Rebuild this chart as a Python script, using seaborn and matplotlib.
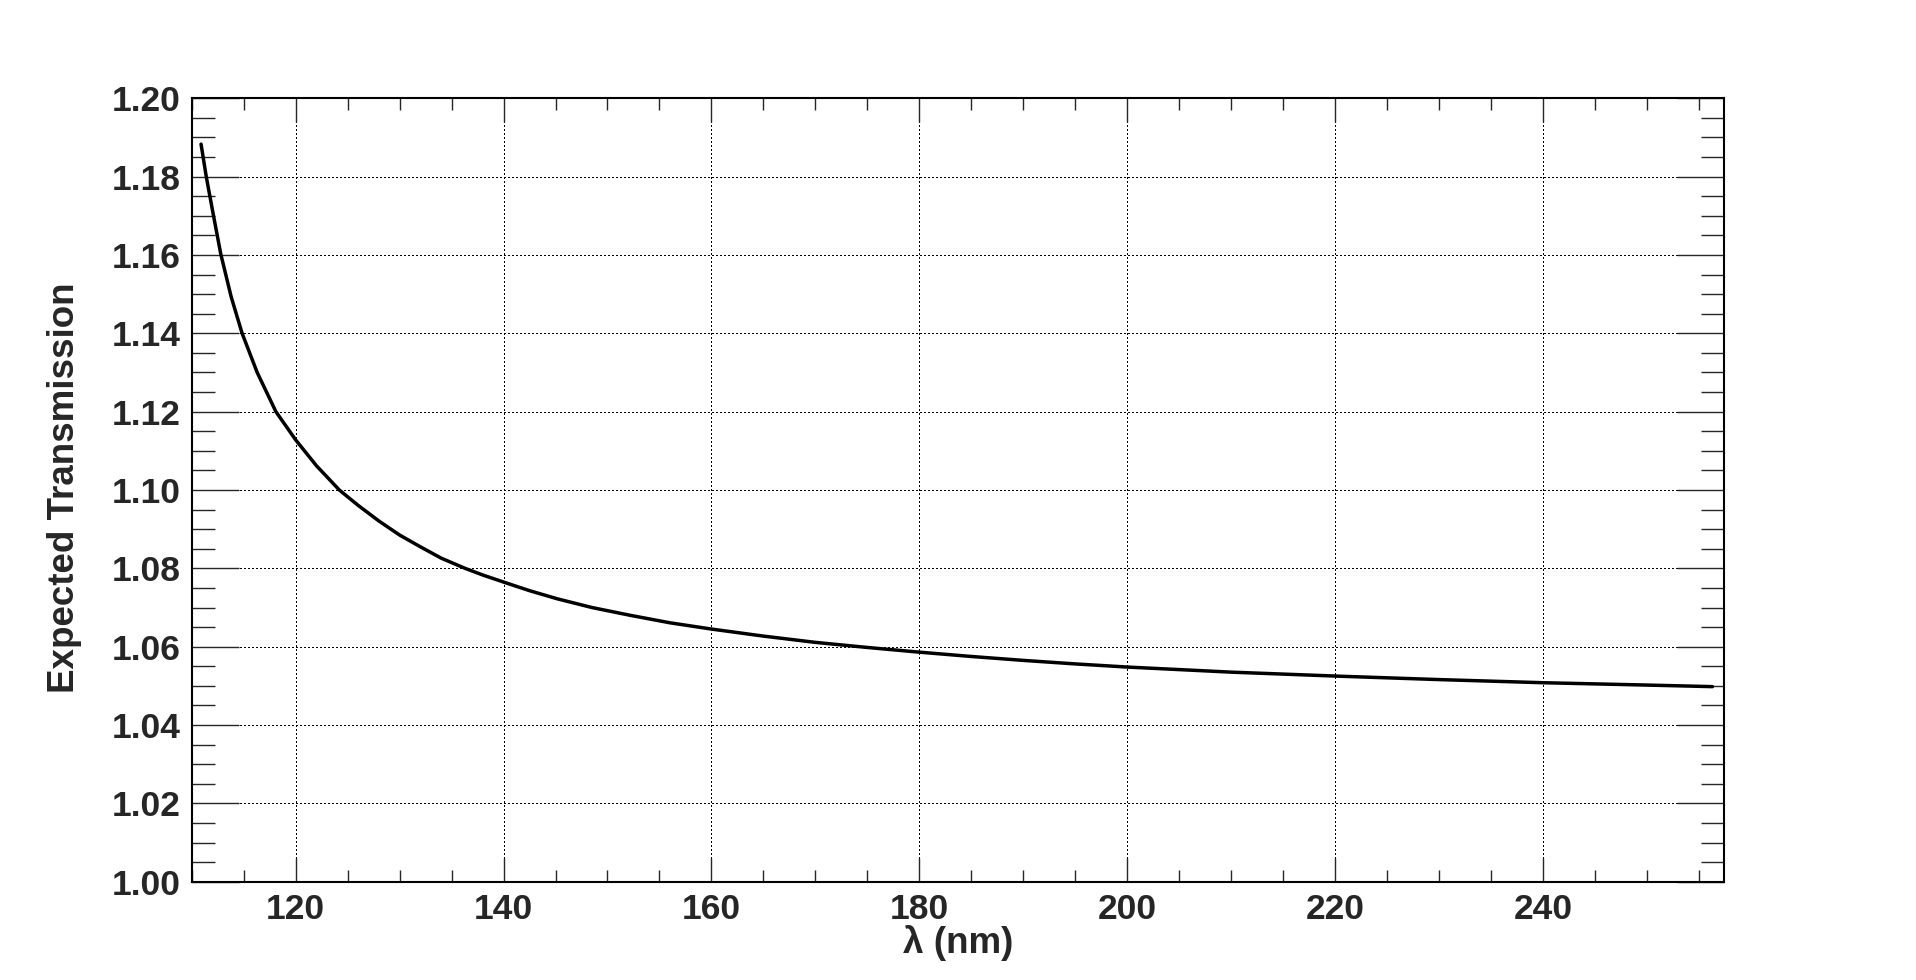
import matplotlib
matplotlib.use("Agg")
import matplotlib.pyplot as plt
from matplotlib.ticker import MultipleLocator, FormatStrFormatter
import seaborn as sns
import pandas as pd

# Valores (comprimento de onda em nm, transmissao esperada)
wavelength_nm = [110.9, 111.4, 112.1, 112.8, 113.8, 114.85, 116.3, 118.1, 120.0,
                 122.0, 124.2, 126.0, 128.0, 130.0, 132.0, 134.0, 136.3, 138.0,
                 140.0, 142.5, 145.2, 148.5, 152.2, 156.0, 160.0, 165.0, 170.0,
                 175.0, 180.0, 185.0, 190.0, 195.0, 200.0, 210.0, 220.0, 230.0,
                 240.0, 250.0, 256.3]
transmission = [1.1883, 1.1800, 1.1700, 1.1602, 1.1493, 1.1400, 1.1300, 1.1200, 1.1128,
                1.1062, 1.1000, 1.0961, 1.0921, 1.0885, 1.0855, 1.0826, 1.0800, 1.0783,
                1.0765, 1.0743, 1.0722, 1.0700, 1.0680, 1.0661, 1.0645, 1.0627, 1.0611,
                1.0598, 1.0586, 1.0575, 1.0565, 1.0556, 1.0548, 1.0535, 1.0525, 1.0516,
                1.0508, 1.0502, 1.0498]

df = pd.DataFrame({"lambda": wavelength_nm, "T": transmission})

sns.set_style("white")
plt.rcParams["font.family"] = ["Liberation Sans", "DejaVu Sans"]
plt.rcParams["font.weight"] = "bold"

fig = plt.figure(figsize=(19.16, 9.8), dpi=100)
ax = fig.add_axes([0.10005, 0.1003, 0.7997, 0.7994])

sns.lineplot(data=df, x="lambda", y="T", color="black", linewidth=2.5, ax=ax, zorder=3)

ax.set_xlim(110, 257.4)
ax.set_ylim(1.00, 1.20)

ax.xaxis.set_major_locator(MultipleLocator(20))
ax.xaxis.set_minor_locator(MultipleLocator(5))
ax.yaxis.set_major_locator(MultipleLocator(0.02))
ax.yaxis.set_minor_locator(MultipleLocator(0.005))
ax.yaxis.set_major_formatter(FormatStrFormatter("%.2f"))

# grade pontilhada so nos ticks principais
ax.grid(True, which="major", color="black", linewidth=0.75, linestyle=(0, (1, 2)),
        antialiased=False, zorder=0)

ax.tick_params(axis="x", which="major", direction="in", length=17.3, width=1,
               top=True, bottom=True, labelsize=25.5, pad=8)
ax.tick_params(axis="x", which="minor", direction="in", length=8.6, width=1,
               top=True, bottom=True)
ax.tick_params(axis="y", which="major", direction="in", length=33.8, width=1,
               left=True, right=True, labelsize=25.5, pad=8)
ax.tick_params(axis="y", which="minor", direction="in", length=16.6, width=1,
               left=True, right=True)
for lab in ax.get_xticklabels() + ax.get_yticklabels():
    lab.set_fontweight("bold")

for s in ax.spines.values():
    s.set_color("black")
    s.set_linewidth(1.5)

ax.set_xlabel("λ (nm)", fontsize=26.5, fontweight="bold")
ax.set_ylabel("Expected Transmission", fontsize=26.5, fontweight="bold")
ax.xaxis.label.set_va("center")
ax.yaxis.label.set_va("center")
ax.xaxis.set_label_coords(0.5, -0.0782)
ax.yaxis.set_label_coords(-0.0827, 0.503)

fig.savefig("out.png", dpi=100)
